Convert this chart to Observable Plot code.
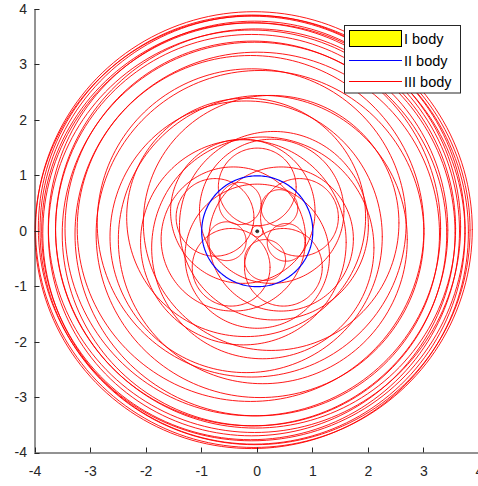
<!DOCTYPE html>
<html><head><meta charset="utf-8">
<script src="https://cdn.jsdelivr.net/npm/d3@7"></script>
<script src="https://cdn.jsdelivr.net/npm/@observablehq/plot@0.6"></script>
<style>
body{margin:0;background:#fff}
#chart{position:relative;width:478px;height:486px;overflow:hidden}
</style>
</head><body><div id="chart"></div>
<script>
// axis ticks
const tickValues = [-4, -3, -2, -1, 0, 1, 2, 3, 4];
// legend
const legendLabels = ["I body", "II body", "III body"];
const legendColors = ["#ffff00", "#0000ff", "#ff0000"];
// body I position
const bodyIX = [0];
const bodyIY = [0];
// body II orbit (circle)
const bodyIICx = [0];
const bodyIICy = [0];
const bodyIIR = [1];
// body III trajectory, read as successive loops (centre x, centre y, radius)
const loopCx = [0, -0.31, 0.4, 0.52, 0.14, -0.55,
  0, 0.76, 0.47, -0.47, -0.76,
  0.26, 0.43, 0, -0.43, -0.26,
  0.3, -0.25, 0.1, -0.2, 0.25, -0.2, 0.1, -0.1, 0.05, -0.12, 0.0,
  -0.08, -0.05, -0.1, -0.03, -0.1, -0.05, -0.12, -0.06, -0.1, -0.04, -0.1, -0.06];
const loopCy = [0, 0.5, 0.42, -0.2, -0.52, -0.18,
  0.8, 0.25, -0.65, -0.65, 0.25,
  0.36, -0.14, -0.45, -0.14, 0.36,
  0.1, -0.2, -0.3, 0.25, 0.15, -0.1, -0.15, 0.15, -0.05, 0.05, -0.05,
  0.05, -0.05, 0.02, 0.05, -0.03, 0.08, 0.0, -0.04, 0.06, 0.02, -0.02, 0.03];
const loopR = [0.1, 0.38, 0.33, 0.34, 0.37, 0.35,
  0.7, 0.7, 0.7, 0.7, 0.7,
  1.3, 1.3, 1.3, 1.3, 1.3,
  1.7, 1.85, 2.0, 2.15, 2.3, 2.45, 2.6, 2.78, 2.95, 3.12, 3.28,
  3.38, 3.46, 3.53, 3.6, 3.66, 3.71, 3.76, 3.8, 3.84, 3.87, 3.9, 3.93];

// sample circles for drawing (geometry only)
function circlePoints(cx, cy, r, id, n = 180) {
  const pts = [];
  for (let k = 0; k <= n; k++) {
    const a = (2 * Math.PI * k) / n;
    pts.push({x: cx + r * Math.cos(a), y: cy + r * Math.sin(a), id});
  }
  return pts;
}
const redPts = loopR.flatMap((r, i) => circlePoints(loopCx[i], loopCy[i], r, i));
const bluePts = bodyIIR.flatMap((r, i) => circlePoints(bodyIICx[i], bodyIICy[i], r, i, 240));
const bodyI = bodyIX.map((x, i) => ({x, y: bodyIY[i]}));

const axisColor = "#262626";
const font = "Liberation Sans, Arial, Helvetica, sans-serif";

const chart = Plot.plot({
  width: 478,
  height: 486,
  marginLeft: 34.5,
  marginRight: 0,
  marginTop: 9,
  marginBottom: 33.5,
  style: {fontFamily: font, fontSize: "14px", color: axisColor, background: "#fff"},
  x: {domain: [-4, 4], range: [34.5, 479], label: null},
  y: {domain: [-4, 4], range: [452.5, 9], label: null},
  marks: [
    Plot.line(redPts, {x: "x", y: "y", z: "id", stroke: "#ff0000", strokeWidth: 0.9}),
    Plot.line(bluePts, {x: "x", y: "y", z: "id", stroke: "#0000ff", strokeWidth: 1.2}),
    Plot.dot(bodyI, {x: "x", y: "y", r: 1.6, fill: "#333", stroke: "#000", strokeWidth: 0.5}),
    Plot.ruleX([-4], {stroke: axisColor, strokeWidth: 1}),
    Plot.ruleY([-4], {stroke: axisColor, strokeWidth: 1}),
    Plot.axisX(tickValues, {anchor: "bottom", tickSize: 0, tickPadding: 13, tickFormat: d => String(d), fill: axisColor, fontSize: 14}),
    Plot.axisY(tickValues, {anchor: "left", tickSize: 0, tickPadding: 8, tickFormat: d => String(d), fill: axisColor, fontSize: 14})
  ]
});
document.getElementById("chart").appendChild(chart);

const svg = d3.select(chart);
const sx = chart.scale("x"), sy = chart.scale("y");
// inward tick marks (MATLAB style)
const tg = svg.append("g").attr("stroke", axisColor).attr("stroke-width", 1);
tickValues.forEach(v => {
  const px = Math.round(sx.apply(v)) + 0.5;
  tg.append("line").attr("x1", px).attr("x2", px).attr("y1", sy.apply(-4)).attr("y2", sy.apply(-4) - 5);
  const py = Math.round(sy.apply(v)) + 0.5;
  tg.append("line").attr("y1", py).attr("y2", py).attr("x1", sx.apply(-4)).attr("x2", sx.apply(-4) + 5);
});

// legend box inside the plot area (top right)
const lg = svg.append("g").attr("font-family", font).attr("font-size", 14.5).attr("text-anchor", "start");
lg.append("rect").attr("x", 344.5).attr("y", 25.5).attr("width", 116).attr("height", 67.5)
  .attr("fill", "#fff").attr("stroke", axisColor).attr("stroke-width", 1);
const rowY = [38.5, 60.5, 81.5];
lg.append("rect").attr("x", 349.5).attr("y", 30.5).attr("width", 52).attr("height", 16)
  .attr("fill", legendColors[0]).attr("stroke", "#000").attr("stroke-width", 1);
lg.append("line").attr("x1", 349).attr("x2", 402).attr("y1", rowY[1]).attr("y2", rowY[1]).attr("stroke", legendColors[1]).attr("stroke-width", 1);
lg.append("line").attr("x1", 349).attr("x2", 402).attr("y1", rowY[2]).attr("y2", rowY[2]).attr("stroke", legendColors[2]).attr("stroke-width", 1);
legendLabels.forEach((t, i) => {
  lg.append("text").attr("x", 404).attr("y", rowY[i]).attr("dy", "0.35em").attr("fill", "#000").text(t);
});
</script>
</body></html>
